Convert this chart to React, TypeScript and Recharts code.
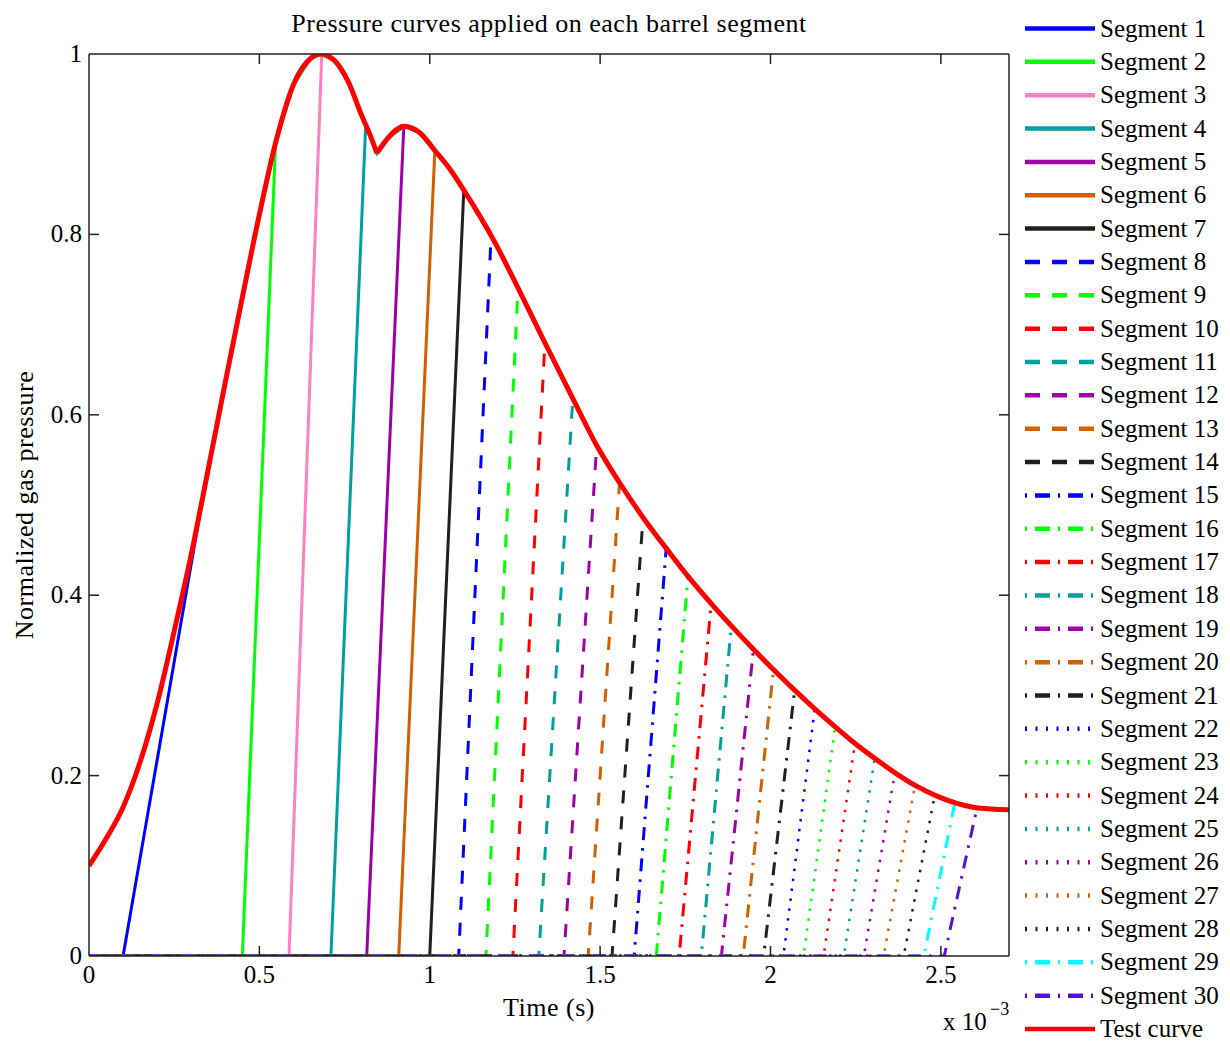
import React from 'react';
import { LineChart, Line, XAxis, YAxis, Legend } from 'recharts';

// Test curve (time in ms, i.e. x 10^-3 s)
const testTime = [0, 0.05, 0.1, 0.15, 0.2, 0.25, 0.3, 0.35, 0.4, 0.45, 0.5, 0.55, 0.6, 0.65, 0.68, 0.72, 0.76, 0.8, 0.825, 0.845, 0.88, 0.925, 0.97, 1.015, 1.06, 1.1, 1.19, 1.26, 1.33, 1.42, 1.49, 1.56, 1.63, 1.7, 1.76, 1.83, 1.89, 1.95, 2.01, 2.07, 2.13, 2.19, 2.25, 2.31, 2.37, 2.43, 2.49, 2.55, 2.61, 2.7];
const testValue = [0.1, 0.13, 0.165, 0.215, 0.28, 0.36, 0.445, 0.54, 0.636, 0.73, 0.822, 0.905, 0.966, 0.995, 1.0, 0.993, 0.97, 0.932, 0.91, 0.89, 0.908, 0.92, 0.913, 0.893, 0.872, 0.849, 0.792, 0.74, 0.686, 0.618, 0.566, 0.523, 0.484, 0.449, 0.42, 0.389, 0.364, 0.34, 0.317, 0.295, 0.274, 0.254, 0.235, 0.218, 0.202, 0.188, 0.177, 0.169, 0.164, 0.162];
const dipTime = 0.845;

// Segments: ramp start time, time where ramp meets the test curve, value there
const segmentStart = [0.1, 0.45, 0.587, 0.71, 0.815, 0.909, 1.0, 1.085, 1.165, 1.244, 1.32, 1.394, 1.465, 1.535, 1.6, 1.665, 1.732, 1.797, 1.856, 1.92, 1.98, 2.038, 2.097, 2.156, 2.215, 2.274, 2.332, 2.391, 2.45, 2.51];
const segmentJoin = [0.33, 0.548, 0.683, 0.812, 0.924, 1.015, 1.1, 1.18, 1.259, 1.338, 1.42, 1.49, 1.557, 1.626, 1.694, 1.758, 1.826, 1.885, 1.95, 2.009, 2.071, 2.13, 2.19, 2.248, 2.306, 2.365, 2.424, 2.482, 2.541, 2.606];
const segmentJoinValue = [0.5, 0.905, 0.999, 0.921, 0.92, 0.893, 0.849, 0.798, 0.74, 0.68, 0.618, 0.566, 0.524, 0.486, 0.452, 0.421, 0.391, 0.366, 0.34, 0.318, 0.295, 0.274, 0.254, 0.236, 0.219, 0.203, 0.189, 0.178, 0.17, 0.164];
const segmentNames = ['Segment 1', 'Segment 2', 'Segment 3', 'Segment 4', 'Segment 5', 'Segment 6', 'Segment 7', 'Segment 8', 'Segment 9', 'Segment 10', 'Segment 11', 'Segment 12', 'Segment 13', 'Segment 14', 'Segment 15', 'Segment 16', 'Segment 17', 'Segment 18', 'Segment 19', 'Segment 20', 'Segment 21', 'Segment 22', 'Segment 23', 'Segment 24', 'Segment 25', 'Segment 26', 'Segment 27', 'Segment 28', 'Segment 29', 'Segment 30'];
const BLUE = '#0000ff', GREEN = '#00ff00', RED = '#ff0000', TEAL = '#00a0a0', PURPLE = '#a000a8', ORANGE = '#d25f00', BLACK = '#202020';
const segmentColors = [
  BLUE, GREEN, '#ff80c0', TEAL, PURPLE, ORANGE, BLACK,
  BLUE, GREEN, RED, TEAL, PURPLE, ORANGE, BLACK,
  BLUE, GREEN, RED, TEAL, PURPLE, ORANGE, BLACK,
  BLUE, GREEN, RED, TEAL, PURPLE, ORANGE, BLACK,
  '#00ffff', '#5a10d0',
];
const segmentStyles = [
  'solid', 'solid', 'solid', 'solid', 'solid', 'solid', 'solid',
  'dashed', 'dashed', 'dashed', 'dashed', 'dashed', 'dashed', 'dashed',
  'dashdot', 'dashdot', 'dashdot', 'dashdot', 'dashdot', 'dashdot', 'dashdot',
  'dotted', 'dotted', 'dotted', 'dotted', 'dotted', 'dotted', 'dotted',
  'dashdot', 'dashdot',
];
const testName = 'Test curve';

const xTicks = [0, 0.5, 1, 1.5, 2, 2.5];
const xTickLabels = ['0', '0.5', '1', '1.5', '2', '2.5'];
const yTicks = [0, 0.2, 0.4, 0.6, 0.8, 1];
const yTickLabels = ['0', '0.2', '0.4', '0.6', '0.8', '1'];

const FONT = "'Liberation Serif', 'Times New Roman', serif";

const plotDash: Record<string, string | undefined> = {
  solid: undefined,
  dashed: '13 13',
  dashdot: '13 8 2.5 8',
  dotted: '2.5 7.5',
};
const legendDash: Record<string, string | undefined> = {
  solid: undefined,
  dashed: '15 12',
  dashdot: '2 8 15 8',
  dotted: '2 8.5',
};

const testData = testTime.map((t, i) => ({ t, p: testValue[i] }));
const testDataA = testData.filter((d) => d.t <= dipTime);
const testDataB = testData.filter((d) => d.t >= dipTime);

const segmentData = segmentStart.map((s, i) => [
  { t: 0, p: 0 },
  { t: s, p: 0 },
  { t: segmentJoin[i], p: segmentJoinValue[i] },
  ...testData.filter((d) => d.t > segmentJoin[i] + 0.01),
]);

const axisColor = '#222';

const BottomTick = (props: any) => {
  const { x, y, payload } = props;
  const idx = xTicks.indexOf(payload.value);
  return (
    <g>
      {idx > 0 && <line x1={x} x2={x} y1={y} y2={y - 10} stroke={axisColor} strokeWidth={1.5} />}
      <text x={x} y={y + 27} textAnchor="middle" fontSize={25} fontFamily={FONT} fill="#000">
        {idx >= 0 ? xTickLabels[idx] : ''}
      </text>
    </g>
  );
};
const TopTick = (props: any) => {
  const { x, y, payload } = props;
  if (payload.value === 0) return <g />;
  return <line x1={x} x2={x} y1={y} y2={y + 10} stroke={axisColor} strokeWidth={1.5} />;
};
const LeftTick = (props: any) => {
  const { x, y, payload } = props;
  const idx = yTicks.indexOf(payload.value);
  return (
    <g>
      {idx > 0 && idx < yTicks.length - 1 && (
        <line x1={x} x2={x + 10} y1={y} y2={y} stroke={axisColor} strokeWidth={1.5} />
      )}
      <text x={x - 7} y={y + 8} textAnchor="end" fontSize={25} fontFamily={FONT} fill="#000">
        {idx >= 0 ? yTickLabels[idx] : ''}
      </text>
    </g>
  );
};
const RightTick = (props: any) => {
  const { x, y, payload } = props;
  if (payload.value === 0 || payload.value === 1) return <g />;
  return <line x1={x - 10} x2={x} y1={y} y2={y} stroke={axisColor} strokeWidth={1.5} />;
};

const XLabel = (props: any) => {
  const vb = props.viewBox;
  const cx = vb.x + vb.width / 2;
  return (
    <g fontFamily={FONT} fill="#000">
      <text x={cx} y={vb.y + 60} textAnchor="middle" fontSize={26} letterSpacing={0.5}>
        Time (s)
      </text>
      <text x={vb.x + vb.width - 66} y={vb.y + 74} fontSize={25}>
        x 10
      </text>
      <text x={vb.x + vb.width - 19} y={vb.y + 59} fontSize={18}>
        −3
      </text>
    </g>
  );
};
const YLabel = (props: any) => {
  const vb = props.viewBox;
  const cy = vb.y + vb.height / 2;
  return (
    <text
      x={33}
      y={cy}
      transform={`rotate(-90, 33, ${cy})`}
      textAnchor="middle"
      fontSize={26}
      letterSpacing={0.5}
      fontFamily={FONT}
      fill="#000"
    >
      Normalized gas pressure
    </text>
  );
};
const TitleLabel = (props: any) => {
  const vb = props.viewBox;
  return (
    <text
      x={vb.x + vb.width / 2}
      y={32}
      textAnchor="middle"
      fontSize={26}
      letterSpacing={0.5}
      fontFamily={FONT}
      fill="#000"
    >
      Pressure curves applied on each barrel segment
    </text>
  );
};

const legendItems = [
  ...segmentNames.map((name, i) => ({ name, color: segmentColors[i], style: segmentStyles[i] })),
  { name: testName, color: RED, style: 'solid' },
];

const renderLegend = () => (
  <svg width={215} height={1043} style={{ display: 'block' }}>
    {legendItems.map((it, i) => {
      const y = 28.5 + i * 33.35;
      return (
        <g key={it.name}>
          <line
            x1={10}
            x2={80}
            y1={y}
            y2={y}
            stroke={it.color}
            strokeWidth={4.5}
            strokeDasharray={legendDash[it.style]}
          />
          <text x={85} y={y + 8} fontSize={25} fontFamily={FONT} fill="#000">
            {it.name}
          </text>
        </g>
      );
    })}
  </svg>
);

export default function App() {
  return (
    <div style={{ position: 'absolute', left: 0, top: 0, width: 1230, height: 1043, background: '#fff' }}>
      <LineChart width={1230} height={1043} margin={{ top: 53, right: 220, bottom: 86, left: 88 }}>
        <XAxis
          xAxisId="b"
          dataKey="t"
          type="number"
          domain={[0, 2.7]}
          ticks={xTicks}
          interval={0}
          height={1}
          tickSize={0}
          tickMargin={0}
          tickLine={false}
          tick={BottomTick}
          axisLine={{ stroke: axisColor, strokeWidth: 1.5 }}
          allowDataOverflow
          label={XLabel}
        />
        <XAxis
          xAxisId="t"
          orientation="top"
          dataKey="t"
          type="number"
          domain={[0, 2.7]}
          ticks={xTicks}
          interval={0}
          height={1}
          tickSize={0}
          tickMargin={0}
          tickLine={false}
          tick={TopTick}
          axisLine={{ stroke: axisColor, strokeWidth: 1.5 }}
          allowDataOverflow
          label={TitleLabel}
        />
        <YAxis
          yAxisId="l"
          type="number"
          domain={[0, 1]}
          ticks={yTicks}
          interval={0}
          width={1}
          tickSize={0}
          tickMargin={0}
          tickLine={false}
          tick={LeftTick}
          axisLine={{ stroke: axisColor, strokeWidth: 1.5 }}
          allowDataOverflow
          label={YLabel}
        />
        <YAxis
          yAxisId="r"
          orientation="right"
          type="number"
          domain={[0, 1]}
          ticks={yTicks}
          interval={0}
          width={1}
          tickSize={0}
          tickMargin={0}
          tickLine={false}
          tick={RightTick}
          axisLine={{ stroke: axisColor, strokeWidth: 1.5 }}
          allowDataOverflow
        />
        {segmentData.map((d, i) => (
          <Line
            key={segmentNames[i]}
            name={segmentNames[i]}
            data={d}
            dataKey="p"
            xAxisId="b"
            yAxisId="l"
            type="linear"
            stroke={segmentColors[i]}
            strokeWidth={segmentStyles[i] === 'dotted' ? 2.5 : 3}
            strokeDasharray={plotDash[segmentStyles[i]]}
            dot={false}
            activeDot={false}
            isAnimationActive={false}
          />
        ))}
        <Line
          name={testName}
          data={testDataA}
          dataKey="p"
          xAxisId="b"
          yAxisId="l"
          type="monotone"
          stroke={RED}
          strokeWidth={5}
          dot={false}
          activeDot={false}
          isAnimationActive={false}
        />
        <Line
          name={testName + ' (cont.)'}
          data={testDataB}
          dataKey="p"
          xAxisId="b"
          yAxisId="l"
          type="monotone"
          stroke={RED}
          strokeWidth={5}
          dot={false}
          activeDot={false}
          isAnimationActive={false}
          legendType="none"
        />
        <Legend
          layout="vertical"
          align="center"
          verticalAlign="middle"
          content={renderLegend}
          wrapperStyle={{ left: 1015, top: 0, width: 215, height: 1043 }}
        />
      </LineChart>
    </div>
  );
}
